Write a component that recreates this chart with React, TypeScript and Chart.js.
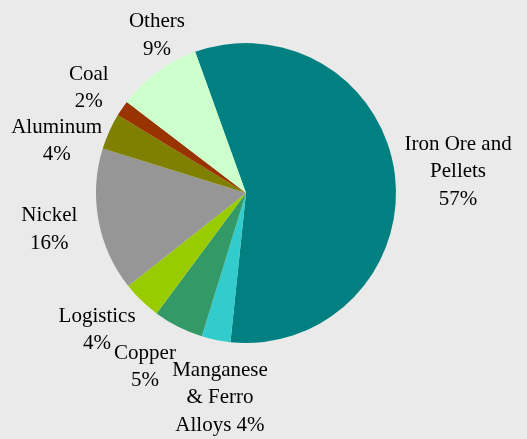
import React, { useEffect, useRef } from "react";
import { Chart, registerables } from "chart.js";

Chart.register(...registerables);

const categories = [
  "Iron Ore and Pellets",
  "Manganese & Ferro Alloys",
  "Copper",
  "Logistics",
  "Nickel",
  "Aluminum",
  "Coal",
  "Others",
];
const shares = [57.1, 3.1, 5.4, 4.2, 15.4, 3.9, 1.7, 9.1];
const pctLabels = ["57%", "4%", "5%", "4%", "16%", "4%", "2%", "9%"];
const labelText = [
  "Iron Ore and\nPellets\n57%",
  "Manganese\n& Ferro\nAlloys 4%",
  "Copper\n5%",
  "Logistics\n4%",
  "Nickel\n16%",
  "Aluminum\n4%",
  "Coal\n2%",
  "Others\n9%",
];
const colors = [
  "#008080",
  "#33cccc",
  "#339966",
  "#99cc00",
  "#969696",
  "#808000",
  "#993300",
  "#ccffcc",
];

// label layout: distance beyond the pie edge plus small nudges (px)
const labelGap = 50;
const labelNudge: [number, number][] = [
  [13.5, 3],
  [14, 9],
  [-10.6, -4.4],
  [-9.6, -6.4],
  [0, 0],
  [-7, 30],
  [8, 8],
  [29, 4],
];

const bgPlugin = {
  id: "bg",
  beforeDraw(chart: any) {
    const ctx = chart.ctx;
    ctx.save();
    ctx.fillStyle = "#eaeaea";
    ctx.fillRect(0, 0, chart.width, chart.height);
    ctx.restore();
  },
};

const labelPlugin = {
  id: "outerLabels",
  afterDraw(chart: any) {
    const ctx = chart.ctx;
    const meta = chart.getDatasetMeta(0);
    ctx.save();
    ctx.font = "21px 'Liberation Serif', 'Times New Roman', serif";
    ctx.fillStyle = "#000000";
    ctx.textAlign = "center";
    ctx.textBaseline = "middle";
    const lineH = 27.5;
    meta.data.forEach((arc: any, i: number) => {
      const p = arc.getProps(["x", "y", "startAngle", "endAngle", "outerRadius"], true);
      const mid = (p.startAngle + p.endAngle) / 2;
      const R = p.outerRadius + labelGap;
      const cx = p.x + Math.cos(mid) * R + labelNudge[i][0];
      const cy = p.y + Math.sin(mid) * R + labelNudge[i][1];
      const lines = labelText[i].split("\n");
      const top = cy - ((lines.length - 1) * lineH) / 2;
      lines.forEach((ln, k) => ctx.fillText(ln, cx, top + k * lineH));
    });
    ctx.restore();
  },
};

export default function App() {
  const ref = useRef<HTMLCanvasElement>(null);
  useEffect(() => {
    document.body.style.margin = "0";
    const chart = new Chart(ref.current!, {
      type: "pie",
      data: {
        labels: categories,
        datasets: [
          {
            data: shares,
            backgroundColor: colors,
            borderWidth: 0,
          },
        ],
      },
      options: {
        responsive: false,
        animation: false,
        rotation: -19.8,
        layout: { padding: { left: 96, right: 131, top: 43, bottom: 96 } },
        plugins: {
          legend: { display: false },
          tooltip: { enabled: false },
        },
      },
      plugins: [bgPlugin, labelPlugin],
    });
    return () => chart.destroy();
  }, []);
  return (
    <div style={{ width: 527, height: 439 }}>
      <canvas ref={ref} width={527} height={439} style={{ display: "block" }} />
    </div>
  );
}
